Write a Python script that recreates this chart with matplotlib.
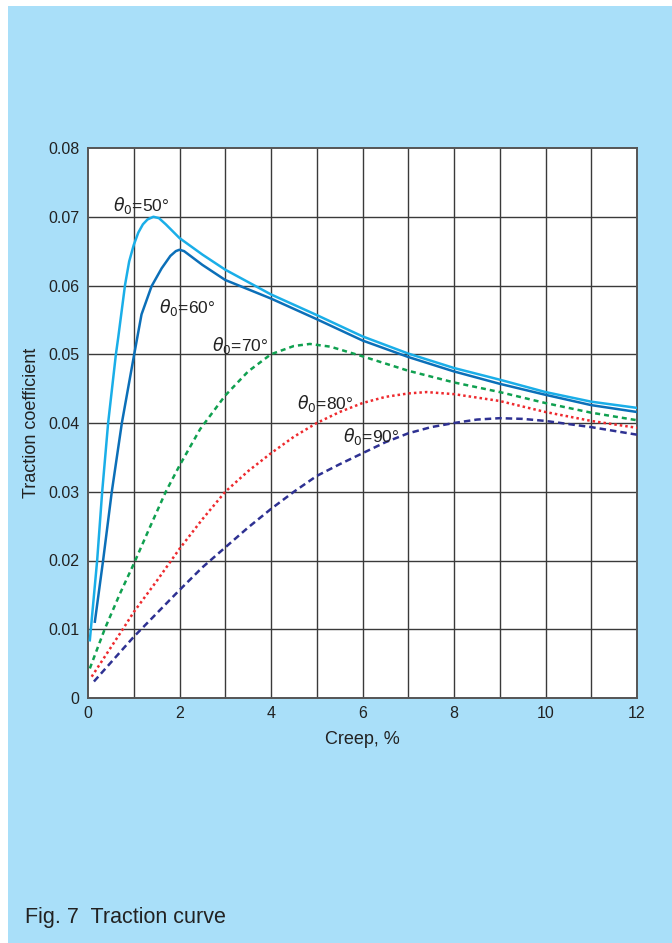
import matplotlib
matplotlib.use("Agg")
import matplotlib.pyplot as plt
from matplotlib.patches import Rectangle

plt.rcParams.update({"font.family": ["Liberation Sans Narrow", "Liberation Sans", "DejaVu Sans"],
                     "font.size": 11, "mathtext.fontset": "dejavusans"})

# values: creep (%) and traction coefficient
x50 = [0.04, 0.20, 0.31, 0.44, 0.61, 0.66, 0.81, 0.9, 1.0, 1.1, 1.2, 1.3, 1.43, 1.55, 1.7, 1.85, 2.0, 2.5, 3.0, 4.0, 5.0, 6.0, 7.0, 8.0, 9.0, 10.0, 11.0, 12.0]
y50 = [0.0084, 0.020, 0.030, 0.040, 0.050, 0.0524, 0.0601, 0.0635, 0.0659, 0.0677, 0.0689, 0.0696, 0.0700, 0.0698, 0.0689, 0.0679, 0.0669, 0.0645, 0.0623, 0.0587, 0.0557, 0.0526, 0.0501, 0.0480, 0.0463, 0.0445, 0.0431, 0.0422]

x60 = [0.15, 0.33, 0.52, 0.74, 1.01, 1.17, 1.39, 1.61, 1.8, 1.92, 2.0, 2.1, 2.2, 2.5, 3.0, 4.0, 5.0, 6.0, 7.0, 8.0, 9.0, 10.0, 11.0, 12.0]
y60 = [0.0111, 0.020, 0.030, 0.040, 0.050, 0.0558, 0.0599, 0.0625, 0.0643, 0.0650, 0.0652, 0.0650, 0.0645, 0.0630, 0.0608, 0.0581, 0.0551, 0.0520, 0.0496, 0.0475, 0.0457, 0.0441, 0.0426, 0.0416]

x70 = [0.04, 0.37, 0.70, 1.0, 1.35, 1.70, 2.0, 2.45, 3.0, 3.5, 4.0, 4.5, 4.85, 5.3, 6.0, 7.0, 8.0, 9.0, 10.0, 11.0, 12.0]
y70 = [0.0043, 0.0101, 0.0152, 0.0195, 0.0248, 0.0300, 0.0338, 0.0391, 0.0440, 0.0475, 0.0500, 0.0512, 0.0515, 0.0511, 0.0497, 0.0476, 0.0459, 0.0445, 0.0429, 0.0415, 0.0404]

x80 = [0.08, 0.77, 1.0, 1.5, 2.0, 2.5, 3.0, 3.5, 4.0, 4.5, 5.0, 5.5, 6.0, 6.5, 7.0, 7.4, 8.0, 9.0, 10.0, 11.0, 12.0]
y80 = [0.0031, 0.0101, 0.0125, 0.0170, 0.0217, 0.0260, 0.0300, 0.0330, 0.0356, 0.0380, 0.0400, 0.0416, 0.0429, 0.0438, 0.0443, 0.0445, 0.0442, 0.0432, 0.0416, 0.0403, 0.0393]

x90 = [0.13, 1.0, 1.5, 2.0, 2.5, 3.0, 3.5, 4.0, 4.5, 5.0, 5.5, 6.0, 6.5, 7.0, 7.5, 8.0, 8.5, 9.0, 9.5, 10.0, 11.0, 12.0]
y90 = [0.0024, 0.0089, 0.0123, 0.0157, 0.0190, 0.0219, 0.0248, 0.0275, 0.0300, 0.0323, 0.0340, 0.0356, 0.0372, 0.0385, 0.0394, 0.0400, 0.0405, 0.0407, 0.0406, 0.0403, 0.0394, 0.0383]

labels = [r"$\theta_0$=50°", r"$\theta_0$=60°", r"$\theta_0$=70°", r"$\theta_0$=80°", r"$\theta_0$=90°"]
label_x = [0.55, 1.56, 2.70, 4.56, 5.58]
label_y = [0.0716, 0.0568, 0.0512, 0.0429, 0.0381]

xticks = [0, 2, 4, 6, 8, 10, 12]
yticks = [0, 0.01, 0.02, 0.03, 0.04, 0.05, 0.06, 0.07, 0.08]
ytick_labels = ["0", "0.01", "0.02", "0.03", "0.04", "0.05", "0.06", "0.07", "0.08"]

fig = plt.figure(figsize=(6.72, 9.43), dpi=100)
fig.patches.append(Rectangle((8/672, 0), 1, 1 - 6/943, transform=fig.transFigure,
                             facecolor="#A9DFF9", edgecolor="none", zorder=-5))

ax = fig.add_axes([88/672, 1 - 698/943, 549/672, 550/943])
ax.set_zorder(2)
ax.set_facecolor("white")

for v in range(1, 12):
    ax.axvline(v, color="#3a3a3a", lw=1.0, zorder=1)
for v in yticks[1:-1]:
    ax.axhline(v, color="#3a3a3a", lw=1.0, zorder=1)

ax.plot(x50, y50, color="#1AAEE8", lw=1.8, zorder=3)
ax.plot(x60, y60, color="#0B6FB8", lw=1.8, zorder=3)
ax.plot(x70, y70, color="#10A050", lw=1.8, ls=(0, (2.0, 1.6)), zorder=3)
ax.plot(x80, y80, color="#EE2A2E", lw=1.8, ls=(0, (1.0, 1.2)), zorder=3)
ax.plot(x90, y90, color="#2E3192", lw=1.8, ls=(0, (2.6, 1.6)), zorder=3)

for t, lx, ly in zip(labels, label_x, label_y):
    ax.text(lx, ly, t, fontsize=12.5, va="center", ha="left", color="#222222", zorder=4)

ax.set_xlim(0, 12)
ax.set_ylim(0, 0.08)
ax.set_xticks(xticks)
ax.set_yticks(yticks)
ax.set_yticklabels(ytick_labels)
ax.tick_params(length=0, pad=6, labelsize=11.5, colors="#222222")
for s in ax.spines.values():
    s.set_color("#555555"); s.set_linewidth(1.4)

ax.set_xlabel("Creep, %", fontsize=13, color="#222222", labelpad=7)
ax.set_ylabel("Traction coefficient", fontsize=13, color="#222222", labelpad=6)

fig.text(25/672, 1 - 917/943, "Fig. 7  Traction curve", fontsize=15.5, va="center", ha="left", color="#222222")

fig.savefig("out.png", dpi=100)
